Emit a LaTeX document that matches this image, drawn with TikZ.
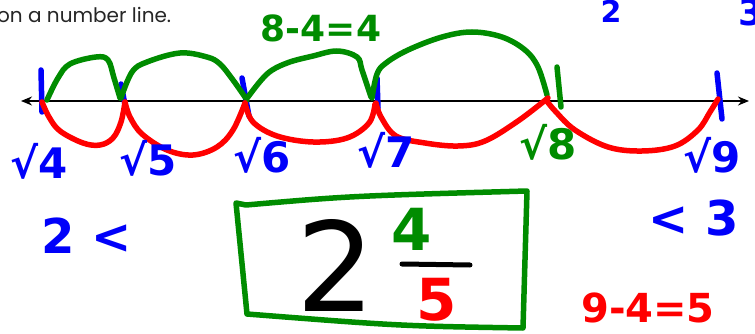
\documentclass[tikz,border=0pt]{standalone}
\usepackage{fontspec}
\setmainfont{DejaVu Sans}
\newfontfamily\gothic{Poppins}
\usetikzlibrary{arrows.meta}
\definecolor{hwgreen}{RGB}{0,140,0}
\definecolor{hwblue}{RGB}{0,0,250}
\definecolor{hwred}{RGB}{255,0,0}
\begin{document}
\begin{tikzpicture}[x=1pt,y=-1pt,line cap=round,line join=round,
  pen/.style={line width=5.5pt},
  hw/.style={inner sep=0pt,font=\fontsize{#1}{#1}\selectfont\bfseries}]
\useasboundingbox (0,0) rectangle (755,334);
\fill[white] (0,0) rectangle (755,334);
% top text
\node[anchor=base west,inner sep=0pt,font=\gothic\fontsize{20}{20}\selectfont,text=black!85] (title) at (-3,23) {on a number line.};
% number line
\coordinate (L) at (21,101);
\coordinate (R) at (749,101);
\draw[line width=1.8pt,{Stealth[length=11pt,width=9pt]}-{Stealth[length=11pt,width=9pt]}] (L) -- (R);
% blue ticks
\draw[pen,hwblue] (41,70) -- (42,112);
\draw[pen,hwblue] (121,84) -- (126,110);
\draw[pen,hwblue] (242,78) -- (249,116);
\draw[pen,hwblue] (377,78) -- (378,108);
\draw[pen,hwblue] (717,73) -- (722,119);
% green tick
\draw[pen,hwgreen] (557,67) -- (561,107);
% green arcs
\draw[pen,hwgreen] plot[smooth,tension=0.6] coordinates {(47,100) (58,78) (70,64) (96,57) (108,60) (114,78) (120,98)};
\draw[pen,hwgreen] plot[smooth,tension=0.6] coordinates {(121,98) (132,72) (147,62) (180,53) (207,57) (220,64) (233,80) (247,100)};
\draw[pen,hwgreen] plot[smooth,tension=0.6] coordinates {(248,97) (267,74) (287,63) (313,56) (337,51) (357,57) (362,70) (371,97)};
\draw[pen,hwgreen] plot[smooth,tension=0.6] coordinates {(372,98) (377,74) (386,63) (408,50) (442,37) (472,32) (502,37) (525,50) (538,67) (547,95)};
% red arcs
\draw[pen,hwred] plot[smooth,tension=0.6] coordinates {(42,102) (49,117) (60,131) (83,143) (100,145) (113,138) (121,122) (125,102)};
\draw[pen,hwred] plot[smooth,tension=0.6] coordinates {(125,102) (130,117) (142,134) (167,150) (193,155) (217,147) (233,130) (245,103)};
\draw[pen,hwred] plot[smooth,tension=0.6] coordinates {(245,103) (253,122) (277,136) (313,142) (347,138) (369,123) (375,104)};
\draw[pen,hwred] plot[smooth,tension=0.6] coordinates {(376,103) (381,117) (396,136) (425,143) (458,146) (485,141) (518,121) (548,98)};
\draw[pen,hwred] plot[smooth,tension=0.6] coordinates {(546,100) (556,112) (575,130) (608,147) (642,151) (675,146) (698,130) (710,112) (718,99)};
% root labels
\node[hw=42,text=hwblue] (r4) at (39,161) {√4};
\node[hw=42,text=hwblue] (r5) at (148,158) {√5};
\node[hw=42,text=hwblue] (r6) at (262,155) {√6};
\node[hw=42,text=hwblue] (r7) at (386,150) {√7};
\node[hw=42,text=hwgreen] (r8) at (548,142) {√8};
\node[hw=42,text=hwblue] (r9) at (712,155) {√9};
% equations
\node[hw=36,text=hwgreen] (eq1) at (321,28) {8-4=4};
\node[hw=40,text=hwred] (eq2) at (648,308) {9-4=5};
\node[hw=30,text=hwblue] (top2) at (611,11) {2};
\node[hw=36,text=hwblue] (top3) at (751,12) {3};
\node[hw=48,text=hwblue] (lo) at (87,236) {2 <};
\node[hw=48,text=hwblue] (hi) at (694,218) {< 3};
% answer box
\draw[pen,hwgreen] (236,203) -- (246,205) .. controls (350,196) .. (527,191) -- (523,328) .. controls (400,326) .. (247,314) -- cycle;
\node[inner sep=0pt,font=\fontsize{124}{124}\selectfont,text=black] (whole) at (336,265) {2};
\node[hw=58,text=hwgreen] (num) at (412,229) {4};
\draw[line width=5pt,black] (402,264) -- (470,265);
\node[hw=58,text=hwred] (den) at (437,300) {5};
\end{tikzpicture}
\end{document}
